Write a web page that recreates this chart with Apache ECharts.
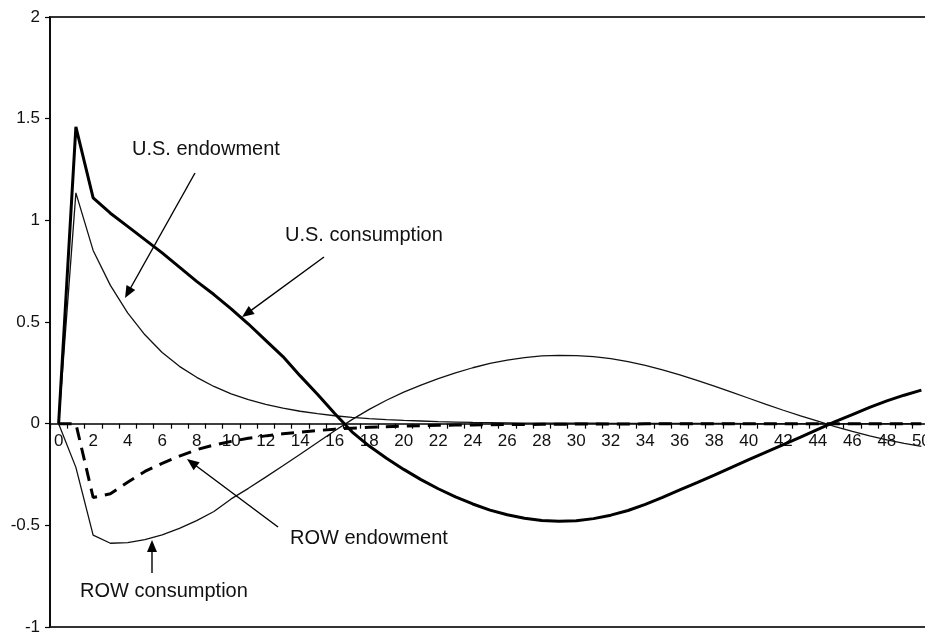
<!DOCTYPE html>
<html>
<head>
<meta charset="utf-8">
<script src="https://cdn.jsdelivr.net/npm/echarts@6/dist/echarts.min.js"></script>
<style>
html,body{margin:0;padding:0;background:#fff;}
#c{width:925px;height:633px;}
</style>
</head>
<body>
<div id="c"></div>
<script>
// ---- data ----
var periods = [];
for (var p = 0; p <= 50; p++) periods.push(String(p));

var usConsumption = [0, 1.46, 1.11, 1.035, 0.97, 0.905, 0.84, 0.77, 0.70, 0.635,
  0.565, 0.49, 0.41, 0.33, 0.235, 0.145, 0.05, -0.04, -0.11, -0.17,
  -0.225, -0.275, -0.32, -0.36, -0.395, -0.425, -0.448, -0.465, -0.476, -0.48,
  -0.477, -0.467, -0.45, -0.427, -0.397, -0.363, -0.326, -0.29, -0.253, -0.215,
  -0.177, -0.14, -0.103, -0.066, -0.028, 0.01, 0.045, 0.08, 0.112, 0.14, 0.165];

var usEndowment = [0, 1.135, 0.852, 0.68, 0.545, 0.437, 0.35, 0.282, 0.228, 0.183,
  0.147, 0.118, 0.095, 0.076, 0.061, 0.049, 0.039, 0.031, 0.025, 0.02,
  0.016, 0.013, 0.01, 0.008, 0.006, 0.005, 0.004, 0.003, 0.003, 0.002,
  0.002, 0.002, 0.001, 0.001, 0.001, 0.001, 0.001, 0.001, 0.001, 0.001,
  0, 0, 0, 0, 0, 0, 0, 0, 0, 0, 0];

var rowEndowment = [0, 0, -0.363, -0.345, -0.288, -0.235, -0.195, -0.16, -0.128, -0.105,
  -0.087, -0.072, -0.06, -0.05, -0.042, -0.034, -0.027, -0.022, -0.018, -0.015,
  -0.012, -0.01, -0.008, -0.007, -0.006, -0.005, -0.004, -0.004, -0.003, -0.003,
  -0.002, -0.002, -0.002, -0.002, -0.001, -0.001, -0.001, -0.001, -0.001, -0.001,
  -0.001, -0.001, -0.001, -0.001, -0.001, -0.001, -0.001, -0.001, -0.001, -0.001, -0.001];

var rowConsumption = [0, -0.215, -0.548, -0.588, -0.585, -0.57, -0.547, -0.515, -0.477, -0.432,
  -0.37, -0.318, -0.263, -0.207, -0.15, -0.093, -0.035, 0.02, 0.07, 0.115,
  0.155, 0.19, 0.222, 0.25, 0.275, 0.296, 0.313, 0.325, 0.333, 0.336,
  0.335, 0.33, 0.32, 0.305, 0.287, 0.265, 0.24, 0.213, 0.185, 0.155,
  0.125, 0.095, 0.066, 0.038, 0.012, -0.014, -0.038, -0.06, -0.08, -0.097, -0.112];

var yTicks = [-1, -0.5, 0, 0.5, 1, 1.5, 2];

// annotation labels
var labelTexts = ['U.S. endowment', 'U.S. consumption', 'ROW endowment', 'ROW consumption'];

// ---- layout / style (not data) ----
var FONT = '"Liberation Sans", Arial, Helvetica, sans-serif';
var W = 925, H = 633;
var GRID = { left: 50, top: 17, right: -5, bottom: 6 };
var plotH = H - GRID.top - GRID.bottom;
var yMin = yTicks[0], yMax = yTicks[yTicks.length - 1];
// move the category axis up so that it sits on the value 0
var xAxisOffset = -plotH * (0 - yMin) / (yMax - yMin);

var labelPos = [[132, 149], [285, 235], [290, 538], [80, 591]];
var arrows = [
  [195, 173, 125, 298],
  [324, 257, 242, 317],
  [278, 527, 187, 459],
  [152, 573, 152, 540]
];

function arrowGraphics(a) {
  var x1 = a[0], y1 = a[1], x2 = a[2], y2 = a[3];
  var dx = x2 - x1, dy = y2 - y1, L = Math.sqrt(dx * dx + dy * dy);
  var ux = dx / L, uy = dy / L;
  var hl = 12, hw = 5;
  var bx = x2 - ux * hl, by = y2 - uy * hl;
  return [
    { type: 'line', silent: true, z: 100,
      shape: { x1: x1, y1: y1, x2: bx + ux * 2, y2: by + uy * 2 },
      style: { stroke: '#000', lineWidth: 1.4 } },
    { type: 'polygon', silent: true, z: 100,
      shape: { points: [[x2, y2], [bx - uy * hw, by + ux * hw], [bx + uy * hw, by - ux * hw]] },
      style: { fill: '#000' } }
  ];
}

var graphics = [];
labelTexts.forEach(function (t, i) {
  graphics.push({ type: 'text', silent: true, z: 100, x: labelPos[i][0], y: labelPos[i][1],
    style: { text: t, fontSize: 20, fontFamily: FONT, fill: '#111', verticalAlign: 'middle', align: 'left' } });
});
arrows.forEach(function (a) { graphics = graphics.concat(arrowGraphics(a)); });

var chart = echarts.init(document.getElementById('c'), null, { renderer: 'canvas', width: W, height: H });
chart.setOption({
  animation: false,
  backgroundColor: '#fff',
  grid: { left: GRID.left, top: GRID.top, right: GRID.right, bottom: GRID.bottom,
    containLabel: false, outerBoundsMode: 'none',
    show: true, borderColor: '#333', borderWidth: 2, backgroundColor: 'transparent' },
  xAxis: {
    type: 'category',
    data: periods,
    boundaryGap: true,
    position: 'bottom',
    offset: xAxisOffset,
    axisLine: { onZero: false, lineStyle: { color: '#000', width: 1.5 } },
    axisTick: { show: true, interval: 0, length: 5, lineStyle: { color: '#000', width: 1.2 } },
    axisLabel: { interval: 1, fontSize: 17, fontFamily: FONT, color: '#111', margin: 9 },
    splitLine: { show: false }
  },
  yAxis: {
    type: 'value',
    min: yMin, max: yMax, interval: 0.5,
    axisLine: { show: true, lineStyle: { color: '#000', width: 1.5 } },
    axisTick: { show: true, length: 5, lineStyle: { color: '#000', width: 1.2 } },
    axisLabel: { fontSize: 17, fontFamily: FONT, color: '#111', margin: 10 },
    splitLine: { show: false }
  },
  series: [
    { name: 'U.S. consumption', type: 'line', data: usConsumption, symbol: 'none',
      lineStyle: { color: '#000', width: 3 }, z: 5 },
    { name: 'U.S. endowment', type: 'line', data: usEndowment, symbol: 'none',
      lineStyle: { color: '#111', width: 1.3 }, z: 4 },
    { name: 'ROW endowment', type: 'line', data: rowEndowment, symbol: 'none',
      lineStyle: { color: '#000', width: 3, type: [13, 8] }, z: 4 },
    { name: 'ROW consumption', type: 'line', data: rowConsumption, symbol: 'none',
      lineStyle: { color: '#111', width: 1.3 }, z: 4 }
  ],
  graphic: graphics
});
</script>
</body>
</html>
